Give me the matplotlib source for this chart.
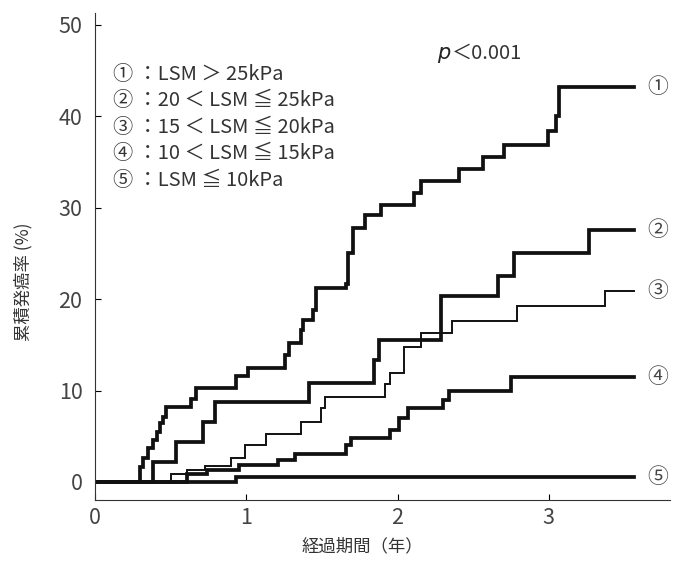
import matplotlib.pyplot as plt

plt.rcParams['font.family'] = ['Noto Sans CJK JP', 'DejaVu Sans']

# ------------------------------
# Datos
# ------------------------------
t_end = 3.56

t1 = [0.30, 0.32, 0.35, 0.385, 0.41, 0.43, 0.45, 0.47, 0.638, 0.671, 0.935, 1.012,
      1.254, 1.28, 1.364, 1.375, 1.441, 1.463, 1.661, 1.672, 1.705, 1.782, 1.892,
      2.112, 2.156, 2.409, 2.563, 2.706, 2.992, 3.05, 3.07]
y1 = [1.6, 2.6, 3.7, 4.6, 5.5, 6.4, 7.1, 8.2, 9.1, 10.3, 11.6, 12.5,
      13.9, 15.2, 16.6, 17.7, 18.8, 21.2, 21.7, 25.0, 27.8, 29.2, 30.3,
      31.6, 32.9, 34.2, 35.6, 36.9, 38.4, 40.0, 43.2]

t2 = [0.385, 0.535, 0.713, 0.792, 1.415, 1.845, 1.878, 2.288, 2.662, 2.772, 3.267]
y2 = [2.2, 4.4, 6.6, 8.8, 10.8, 13.3, 15.5, 20.3, 22.5, 25.1, 27.6]

t3 = [0.50, 0.61, 0.73, 0.90, 0.99, 1.13, 1.364, 1.496, 1.518, 1.914, 1.95,
      2.046, 2.156, 2.36, 2.79, 3.37]
y3 = [0.9, 1.3, 1.75, 2.6, 4.0, 5.3, 6.6, 8.1, 9.3, 10.7, 11.9,
      14.8, 16.3, 17.6, 19.2, 20.9]

t4 = [0.61, 0.74, 0.95, 1.21, 1.32, 1.66, 1.69, 1.95, 2.013, 2.068, 2.30, 2.34, 2.75]
y4 = [0.9, 1.3, 1.86, 2.4, 3.1, 4.0, 4.8, 5.7, 7.0, 8.1, 9.0, 9.9, 11.5]

t5 = [0.935]
y5 = [0.58]

curvas = [(t1, y1, 2.7), (t2, y2, 2.7), (t3, y3, 1.4), (t4, y4, 2.7), (t5, y5, 2.7)]
marcas = ["①", "②", "③", "④", "⑤"]
leyenda = ["① ：LSM ＞ 25kPa", "② ：20 ＜ LSM ≦ 25kPa", "③ ：15 ＜ LSM ≦ 20kPa",
           "④ ：10 ＜ LSM ≦ 15kPa", "⑤ ：LSM ≦ 10kPa"]

# ------------------------------
# Figura
# ------------------------------
fig = plt.figure(figsize=(6.78, 5.64), dpi=100)
ax = fig.add_axes([0.140, 0.113, 0.848, 0.864])

for t, y, lw in curvas:
    xs = [0] + t + [t_end]
    ys = [0] + y + [y[-1]]
    ax.step(xs, ys, where="post", color="#111111", lw=lw, solid_joinstyle="miter")

for m, (t, y, lw) in zip(marcas, curvas):
    ax.text(3.72, y[-1], m, fontsize=15, color="#444444", ha="center", va="center")

for i, s in enumerate(leyenda):
    ax.text(0.12, 44.6 - i * 2.9, s, fontsize=14.5, color="#333333", va="center")

ax.text(2.26, 46.9, "p", fontsize=15, color="#222222", va="center", ha="left",
        family="DejaVu Sans", style="italic")
ax.text(2.36, 46.9, "＜0.001", fontsize=14.5, color="#333333", va="center", ha="left")

ax.set_xlim(0, 3.8)
ax.set_ylim(-2, 51.3)
ax.set_xticks([0, 1, 2, 3])
ax.set_yticks([0, 10, 20, 30, 40, 50])
ax.tick_params(direction="in", length=4, width=0.8, labelsize=15.5, labelcolor="#444444")
ax.tick_params(axis="y", pad=9)
ax.tick_params(axis="x", pad=5)
for s in ["top", "right"]:
    ax.spines[s].set_visible(False)
for s in ["left", "bottom"]:
    ax.spines[s].set_color("#333333")

fig.text(0.535, 0.032, "経過期間（年）", fontsize=12.5, color="#333333", ha="center", va="center")
fig.text(0.034, 0.50, "累積発癌率 (%)", fontsize=12.5, color="#333333", ha="center", va="center",
         rotation=90)

plt.savefig("out.png", dpi=100)
